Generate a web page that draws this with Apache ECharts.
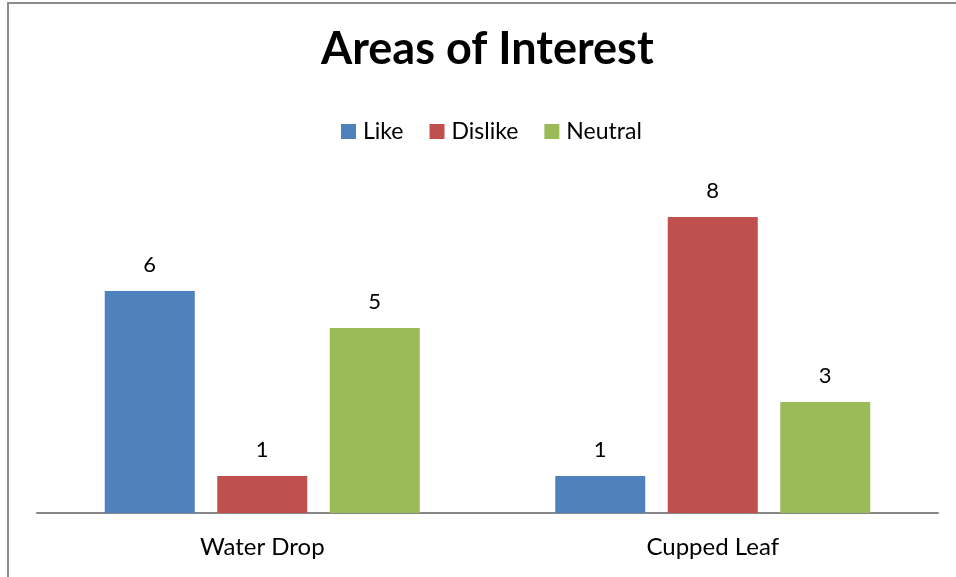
<!DOCTYPE html>
<html>
<head>
<meta charset="utf-8">
<script src="https://cdn.jsdelivr.net/npm/echarts@6/dist/echarts.min.js"></script>
<style>
html, body { margin: 0; padding: 0; background: #fff; }
#chart { width: 956px; height: 577px; }
</style>
</head>
<body>
<div id="chart"></div>
<script>
// data
var categories = ['Water Drop', 'Cupped Leaf'];
var seriesNames = ['Like', 'Dislike', 'Neutral'];
var likeValues = [6, 1];
var dislikeValues = [1, 8];
var neutralValues = [5, 3];

var myChart = echarts.init(document.getElementById('chart'));
var font = 'Lato, "Open Sans", sans-serif';

function bar(name, data, color) {
    return {
        name: name,
        type: 'bar',
        data: data,
        barWidth: 90,
        barGap: '25%',
        itemStyle: { color: color },
        label: {
            show: true,
            position: 'top',
            distance: 15,
            color: '#000',
            fontSize: 22,
            fontFamily: font
        }
    };
}

var option = {
    animation: false,
    title: {
        text: 'Areas of Interest',
        left: 316,
        top: 22,
        textStyle: { fontSize: 45, fontWeight: 'bold', color: '#000', fontFamily: font }
    },
    legend: {
        data: seriesNames,
        top: 115,
        left: 336,
        itemWidth: 15,
        itemHeight: 15,
        itemGap: 26,
        icon: 'rect',
        textStyle: { fontSize: 23, color: '#000', fontFamily: font, padding: [0, 0, 0, 2] }
    },
    graphic: [{
        type: 'rect',
        shape: { x: 8, y: 3, width: 1200, height: 1200 },
        style: { fill: 'none', stroke: '#8c8c8c', lineWidth: 2 },
        silent: true
    }],
    grid: { left: 37, right: 18, top: 143, bottom: 64, containLabel: false },
    xAxis: {
        type: 'category',
        data: categories,
        axisLine: { lineStyle: { color: '#868686', width: 2 } },
        axisTick: { show: false },
        axisLabel: { fontSize: 24, color: '#000', margin: 22, fontFamily: font }
    },
    yAxis: {
        type: 'value',
        min: 0,
        max: 10,
        show: false,
        splitLine: { show: false }
    },
    series: [
        bar(seriesNames[0], likeValues, '#4F81BD'),
        bar(seriesNames[1], dislikeValues, '#C0504D'),
        bar(seriesNames[2], neutralValues, '#9BBB59')
    ]
};

myChart.setOption(option, true);
</script>
</body>
</html>
